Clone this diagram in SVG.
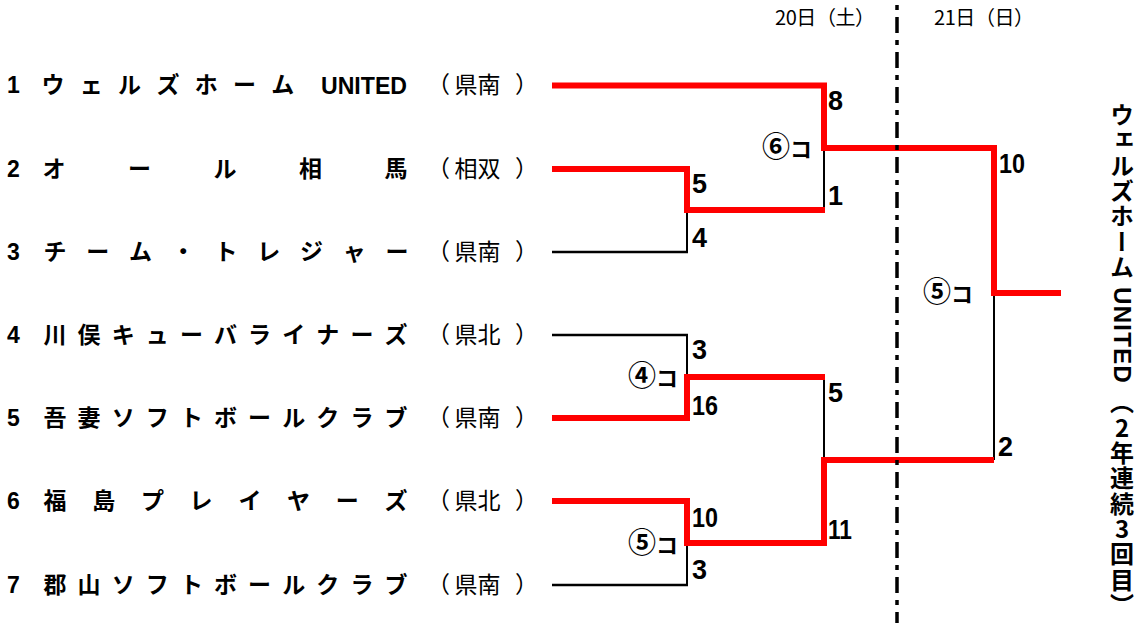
<svg xmlns="http://www.w3.org/2000/svg" width="1141" height="623" viewBox="0 0 1141 623">
<style>
.num{font-family:"Liberation Sans",sans-serif;font-weight:bold;font-size:23px;text-anchor:middle;fill:#000}
.name{font-family:"Noto Sans CJK JP",sans-serif;font-weight:bold;font-size:23px;text-anchor:middle;fill:#000}
.lat{font-family:"Liberation Sans",sans-serif;font-weight:bold;font-size:24px;fill:#000}
.pref{font-family:"Noto Sans CJK JP",sans-serif;font-weight:normal;font-size:23px;text-anchor:middle;fill:#000}
.score{font-family:"Liberation Sans",sans-serif;font-weight:bold;font-size:27px;fill:#000}
.court{font-family:"Noto Sans CJK JP",sans-serif;font-weight:bold;font-size:22px;text-anchor:end;fill:#000}
.circ{font-size:28px;font-weight:bold}
.date{font-family:"Noto Sans CJK JP",sans-serif;font-size:20px;fill:#000}
.champ{font-family:"Noto Sans CJK JP",sans-serif;font-weight:bold;font-size:24px;letter-spacing:1.3px;writing-mode:vertical-rl;fill:#000}
.red{stroke:#ff0000;stroke-width:6;fill:none;stroke-linejoin:miter}
.blk{stroke:#000;stroke-width:2;fill:none}
.bh{stroke:#000;stroke-width:2.5;fill:none}
</style>
<g id="connectors">
<path class="blk" d="M687,210 V252"/>
<path class="bh" d="M552,252 H688"/>
<path class="blk" d="M687,335 V377"/>
<path class="bh" d="M552,335 H688"/>
<path class="blk" d="M687,543 V585"/>
<path class="bh" d="M552,585 H688"/>
<path class="blk" d="M824,148 V210"/>
<path class="blk" d="M824,377 V460"/>
<path class="blk" d="M994,293 V460"/>
<path class="red" d="M552,85.5 H824 V148 H994 V293 H1061"/>
<path class="red" d="M552,169 H687 V210 H825"/>
<path class="red" d="M552,418 H687 V377 H825"/>
<path class="red" d="M552,501 H687 V543 H824 V460 H994"/>
</g>
<g id="day-divider">
<path d="M897,5 V623" stroke="#000" stroke-width="3.5" stroke-dasharray="5 7 16 7" fill="none"/>
<text class="date" x="775" y="25" textLength="100">20日（土）</text>
<text class="date" x="934" y="25" textLength="100">21日（日）</text>
</g>
<g id="team-1">
<text class="num" x="13.5" y="93">1</text>
<text class="name" x="53 91.3 129.6 167.9 206.2 244.5 282.8" y="93">ウェルズホーム</text>
<text class="lat" x="321" y="94" textLength="86" lengthAdjust="spacingAndGlyphs">UNITED</text>
<text class="pref" x="438.5 466 489 526.5" y="93">（県南）</text>
</g>
<g id="team-2">
<text class="num" x="13.5" y="176.5">2</text>
<text class="name" x="54 139.5 225 310.5 396" y="176.5">オール相馬</text>
<text class="pref" x="438.5 466 489 526.5" y="176.5">（相双）</text>
</g>
<g id="team-3">
<text class="num" x="13.5" y="259.5">3</text>
<text class="name" x="55 97.75 140.5 183.25 226 268.75 311.5 354.25 397" y="259.5">チーム・トレジャー</text>
<text class="pref" x="438.5 466 489 526.5" y="259.5">（県南）</text>
</g>
<g id="team-4">
<text class="num" x="13.5" y="342.5">4</text>
<text class="name" x="55 89.1 123.2 157.3 191.4 225.5 259.6 293.7 327.8 361.9 396" y="342.5">川俣キューバライナーズ</text>
<text class="pref" x="438.5 466 489 526.5" y="342.5">（県北）</text>
</g>
<g id="team-5">
<text class="num" x="13.5" y="425.5">5</text>
<text class="name" x="55 89.1 123.2 157.3 191.4 225.5 259.6 293.7 327.8 361.9 396" y="425.5">吾妻ソフトボールクラブ</text>
<text class="pref" x="438.5 466 489 526.5" y="425.5">（県南）</text>
</g>
<g id="team-6">
<text class="num" x="13.5" y="508.5">6</text>
<text class="name" x="55 103.7 152.4 201.1 249.9 298.6 347.3 396" y="508.5">福島プレイヤーズ</text>
<text class="pref" x="438.5 466 489 526.5" y="508.5">（県北）</text>
</g>
<g id="team-7">
<text class="num" x="13.5" y="592.5">7</text>
<text class="name" x="55 89.1 123.2 157.3 191.4 225.5 259.6 293.7 327.8 361.9 396" y="592.5">郡山ソフトボールクラブ</text>
<text class="pref" x="438.5 466 489 526.5" y="592.5">（県南）</text>
</g>
<g id="match-1">
<text class="score" x="692" y="193">5</text>
<text class="score" x="692" y="247">4</text>
</g>
<g id="match-2">
<text class="court" x="678" y="386"><tspan class="circ">④</tspan>コ</text>
<text class="score" x="692" y="359">3</text>
<text class="score" x="692" y="415" textLength="26" lengthAdjust="spacingAndGlyphs">16</text>
</g>
<g id="match-3">
<text class="court" x="678" y="553"><tspan class="circ">⑤</tspan>コ</text>
<text class="score" x="692" y="527" textLength="26" lengthAdjust="spacingAndGlyphs">10</text>
<text class="score" x="692" y="579">3</text>
</g>
<g id="match-semi-1">
<text class="court" x="812" y="157"><tspan class="circ">⑥</tspan>コ</text>
<text class="score" x="828" y="110">8</text>
<text class="score" x="828" y="205">1</text>
</g>
<g id="match-semi-2">
<text class="score" x="828" y="402">5</text>
<text class="score" x="828" y="539" textLength="24" lengthAdjust="spacingAndGlyphs">11</text>
</g>
<g id="match-final">
<text class="court" x="973" y="302"><tspan class="circ">⑤</tspan>コ</text>
<text class="score" x="999" y="173" textLength="26" lengthAdjust="spacingAndGlyphs">10</text>
<text class="score" x="998" y="456">2</text>
</g>
<g id="champion">
<text class="champ" x="1122" y="103">ウェルズホーム<tspan dy="7" style="font-family:'Liberation Sans',sans-serif">UNITED</tspan><tspan dy="6">（</tspan><tspan style="text-orientation:upright">2</tspan>年連続<tspan style="text-orientation:upright">3</tspan>回目）</text>
</g>
</svg>
